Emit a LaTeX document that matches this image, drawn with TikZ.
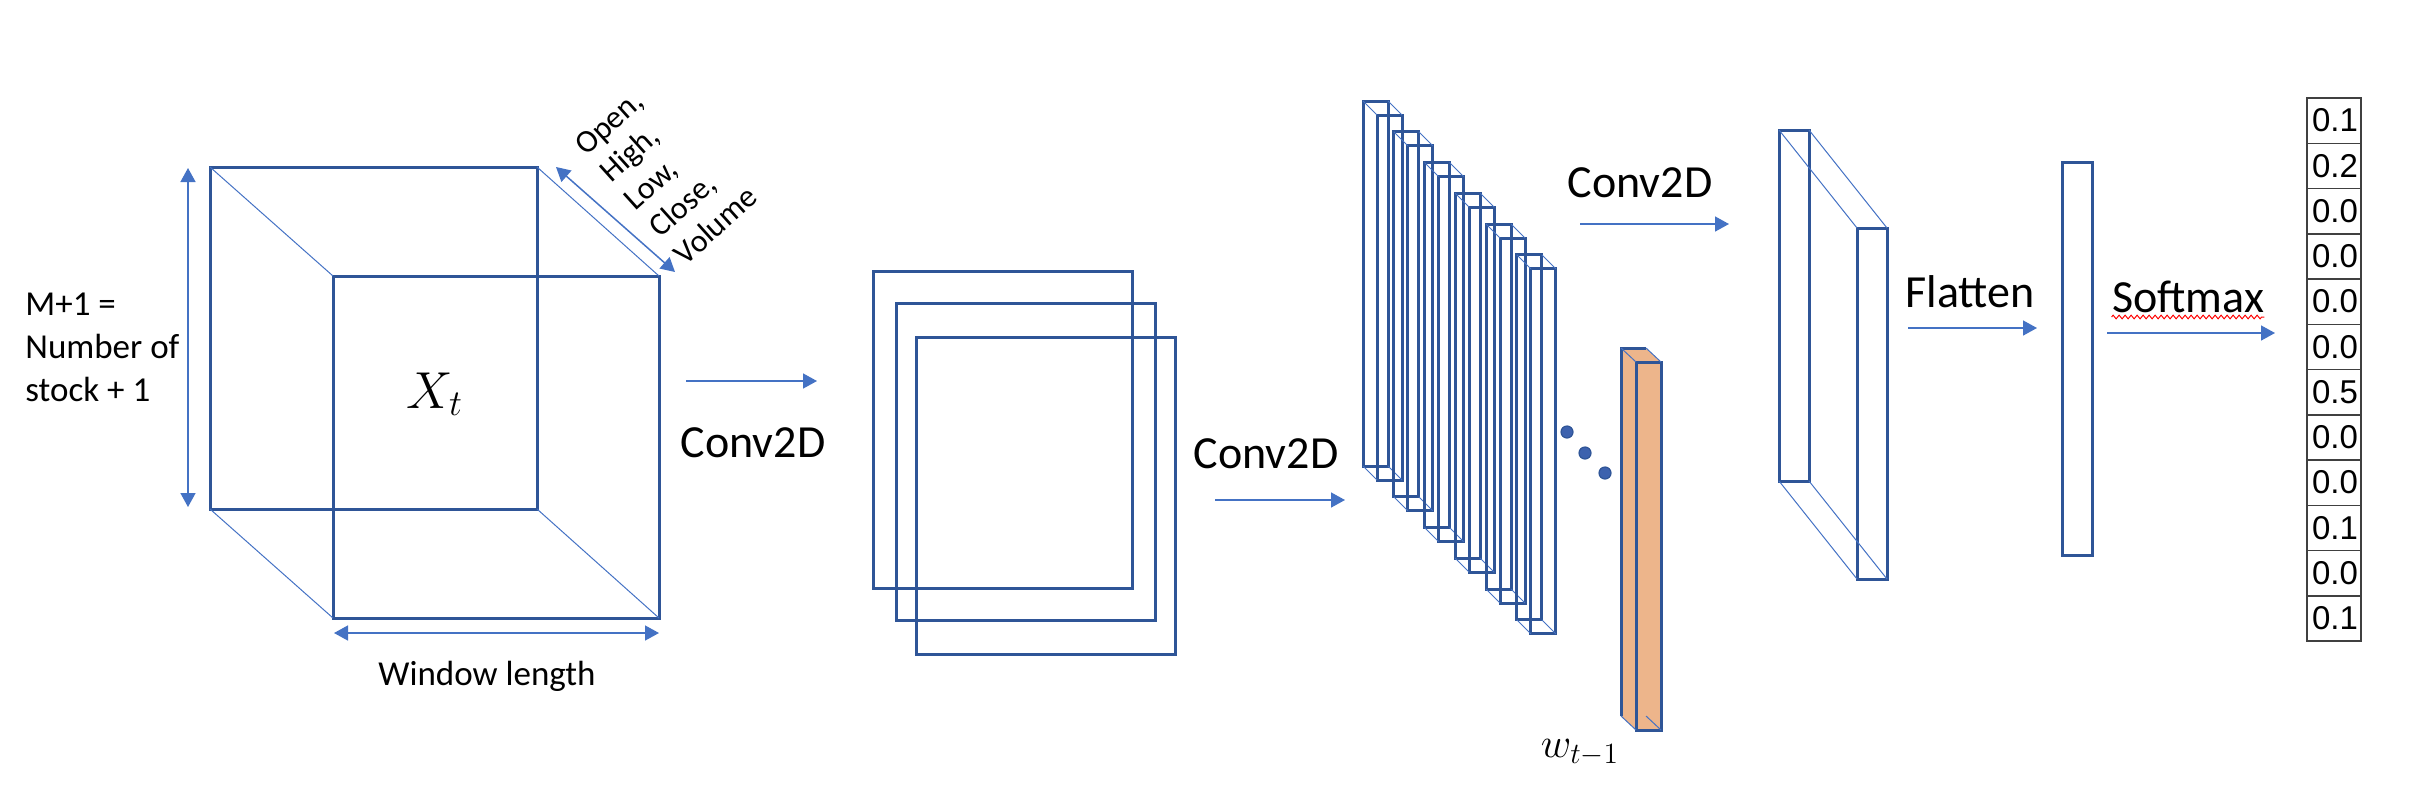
\RequirePackage{fix-cm}
\documentclass[tikz,border=0pt]{standalone}
\usepackage{fontspec}
\setmainfont{Carlito}
\newfontfamily\cellfont{Liberation Sans}
\usetikzlibrary{arrows.meta,decorations.pathmorphing}
\definecolor{boxblue}{HTML}{2F5597}
\definecolor{arrblue}{HTML}{4472C4}
\definecolor{dotblue}{HTML}{3D62AE}
\definecolor{peach}{HTML}{EDB58B}
\begin{document}
\begin{tikzpicture}[x=0.5pt,y=-0.5pt,
  bx/.style={draw=boxblue, line width=1.5pt, inner sep=0pt, outer sep=0pt, anchor=north west},
  link/.style={draw=arrblue, line width=0.5pt},
  arr/.style={draw=arrblue, line width=0.75pt, -{Triangle[length=7pt,width=7.5pt]}},
  darr/.style={draw=arrblue, line width=0.75pt, {Triangle[length=7pt,width=7.5pt]}-{Triangle[length=7pt,width=7.5pt]}},
  lbl/.style={inner sep=0pt, anchor=base, font=\fontsize{23}{27}\selectfont},
  note/.style={inner sep=0pt, font=\fontsize{17.5}{21.5}\selectfont},
  multi/.style={align=left, execute at begin node={\baselineskip=#1\relax}},
  bdot/.style={circle, fill=dotblue, draw=boxblue, line width=0.6pt, minimum size=6pt, inner sep=0pt},
  cell/.style={draw=black!75, line width=0.75pt, anchor=north west, outer sep=0pt,
    minimum width=27pt, minimum height=22.625pt, inner ysep=0pt, inner xsep=2.5pt,
    text width=22pt, align=left, font=\cellfont\fontsize{16.5}{18}\selectfont}
]
\useasboundingbox (0,0) rectangle (2420,810);

% ---- input cube ----
\node[bx, minimum width=163.5pt, minimum height=171pt] (cb) at (210,167) {};
\node[bx, minimum width=163pt, minimum height=171pt] (cf) at (333,276) {};
\foreach \a in {north west, north east, south west, south east}
  \draw[link] (cb.\a) -- (cf.\a);
\node[anchor=base, inner sep=0pt, font=\fontsize{26}{30}\selectfont] (xt) at (435,408) {$X_t$};

\coordinate (va1) at (188,168); \coordinate (va2) at (188,507);
\draw[darr] (va1) -- (va2);
\coordinate (ha1) at (334,633); \coordinate (ha2) at (659,633);
\draw[darr] (ha1) -- (ha2);
\coordinate (da1) at (556,167); \coordinate (da2) at (675,272);
\draw[darr] (da1) -- (da2);

\node[note, multi=21.5pt, anchor=north west] (mlab) at (25,293) {M+1 =\\Number of\\stock + 1};
\node[note, anchor=base] (wlab) at (487,685) {Window length};
\node[inner sep=0pt, font=\fontsize{16}{18.5}\selectfont, multi=18.5pt, rotate=42, anchor=north west] (ohlc) at (572,141) {Open,\\High,\\Low,\\Close,\\Volume};

% ---- conv 1 ----
\coordinate (a1s) at (686,381); \coordinate (a1e) at (817,381);
\draw[arr] (a1s) -- (a1e);
\node[lbl] (l1) at (753,457) {Conv2D};

\node[bx, minimum width=129.5pt, minimum height=158.5pt] (s1) at (873,271) {};
\node[bx, minimum width=129.5pt, minimum height=158.5pt] (s2) at (896,303) {};
\node[bx, minimum width=129.5pt, minimum height=158.5pt] (s3) at (916,337) {};

% ---- conv 2 ----
\coordinate (a2s) at (1215,500); \coordinate (a2e) at (1345,500);
\draw[arr] (a2s) -- (a2e);
\node[lbl] (l2) at (1266,468) {Conv2D};

\foreach \k in {0,...,5} {
  \pgfmathsetmacro\xx{1363+30.75*\k}
  \pgfmathsetmacro\yy{101+30.75*\k}
  \node[bx, minimum width=12.5pt, minimum height=182.5pt] (fb\k) at (\xx,\yy) {};
  \node[bx, minimum width=12.5pt, minimum height=182.5pt] (ff\k) at (\xx+14,\yy+14) {};
  \foreach \a in {north west, north east, south west, south east}
    \draw[link] (fb\k.\a) -- (ff\k.\a);
}

\node[bdot] (d1) at (1567,432) {};
\node[bdot] (d2) at (1585,453) {};
\node[bdot] (d3) at (1605,473) {};

% ---- w_{t-1} bar ----
\node[bx, draw=none, minimum width=12.5pt, minimum height=184pt] (ob) at (1621,348) {};
\node[bx, draw=none, minimum width=12.5pt, minimum height=184pt] (of) at (1636,362) {};
\fill[peach] (ob.north west) -- (ob.north east) -- (of.north east) -- (of.south east) -- (of.south west) -- (ob.south west) -- cycle;
\draw[boxblue, line width=1.5pt] (ob.south west) -- (ob.north west) -- (ob.north east);
\draw[boxblue, line width=1.5pt, fill=peach] (of.north west) rectangle (of.south east);
\foreach \a in {north west, north east, south west, south east}
  \draw[link] (ob.\a) -- (of.\a);
\node[anchor=base, inner sep=0pt, font=\fontsize{21}{25}\selectfont] (wl) at (1580,757) {$w_{t-1}$};

% ---- conv 3 ----
\coordinate (a3s) at (1580,224); \coordinate (a3e) at (1729,224);
\draw[arr] (a3s) -- (a3e);
\node[lbl] (l3) at (1640,197) {Conv2D};

\node[bx, minimum width=15pt, minimum height=175.5pt] (bb) at (1779,130) {};
\node[bx, minimum width=15pt, minimum height=175.5pt] (bf) at (1857,228) {};
\foreach \a in {north west, north east, south west, south east}
  \draw[link] (bb.\a) -- (bf.\a);

% ---- flatten ----
\coordinate (a4s) at (1908,328); \coordinate (a4e) at (2037,328);
\draw[arr] (a4s) -- (a4e);
\node[lbl] (l4) at (1970,307) {Flatten};
\node[bx, minimum width=15pt, minimum height=196.5pt] (fl) at (2062,162) {};

% ---- softmax ----
\coordinate (a5s) at (2107,333); \coordinate (a5e) at (2275,333);
\draw[arr] (a5s) -- (a5e);
\node[lbl] (sm) at (2188,312) {Softmax};
\draw[red, line width=0.5pt, decorate, decoration={zigzag, segment length=3pt, amplitude=0.9pt}]
  ([yshift=-2.5pt]sm.base west) -- ([yshift=-2.5pt]sm.base east);

\foreach \v [count=\i] in {0.1,0.2,0.0,0.0,0.0,0.0,0.5,0.0,0.0,0.1,0.0,0.1}
  \node[cell] (c\i) at (2307,{98+45.25*(\i-1)}) {\v};
\end{tikzpicture}
\end{document}
